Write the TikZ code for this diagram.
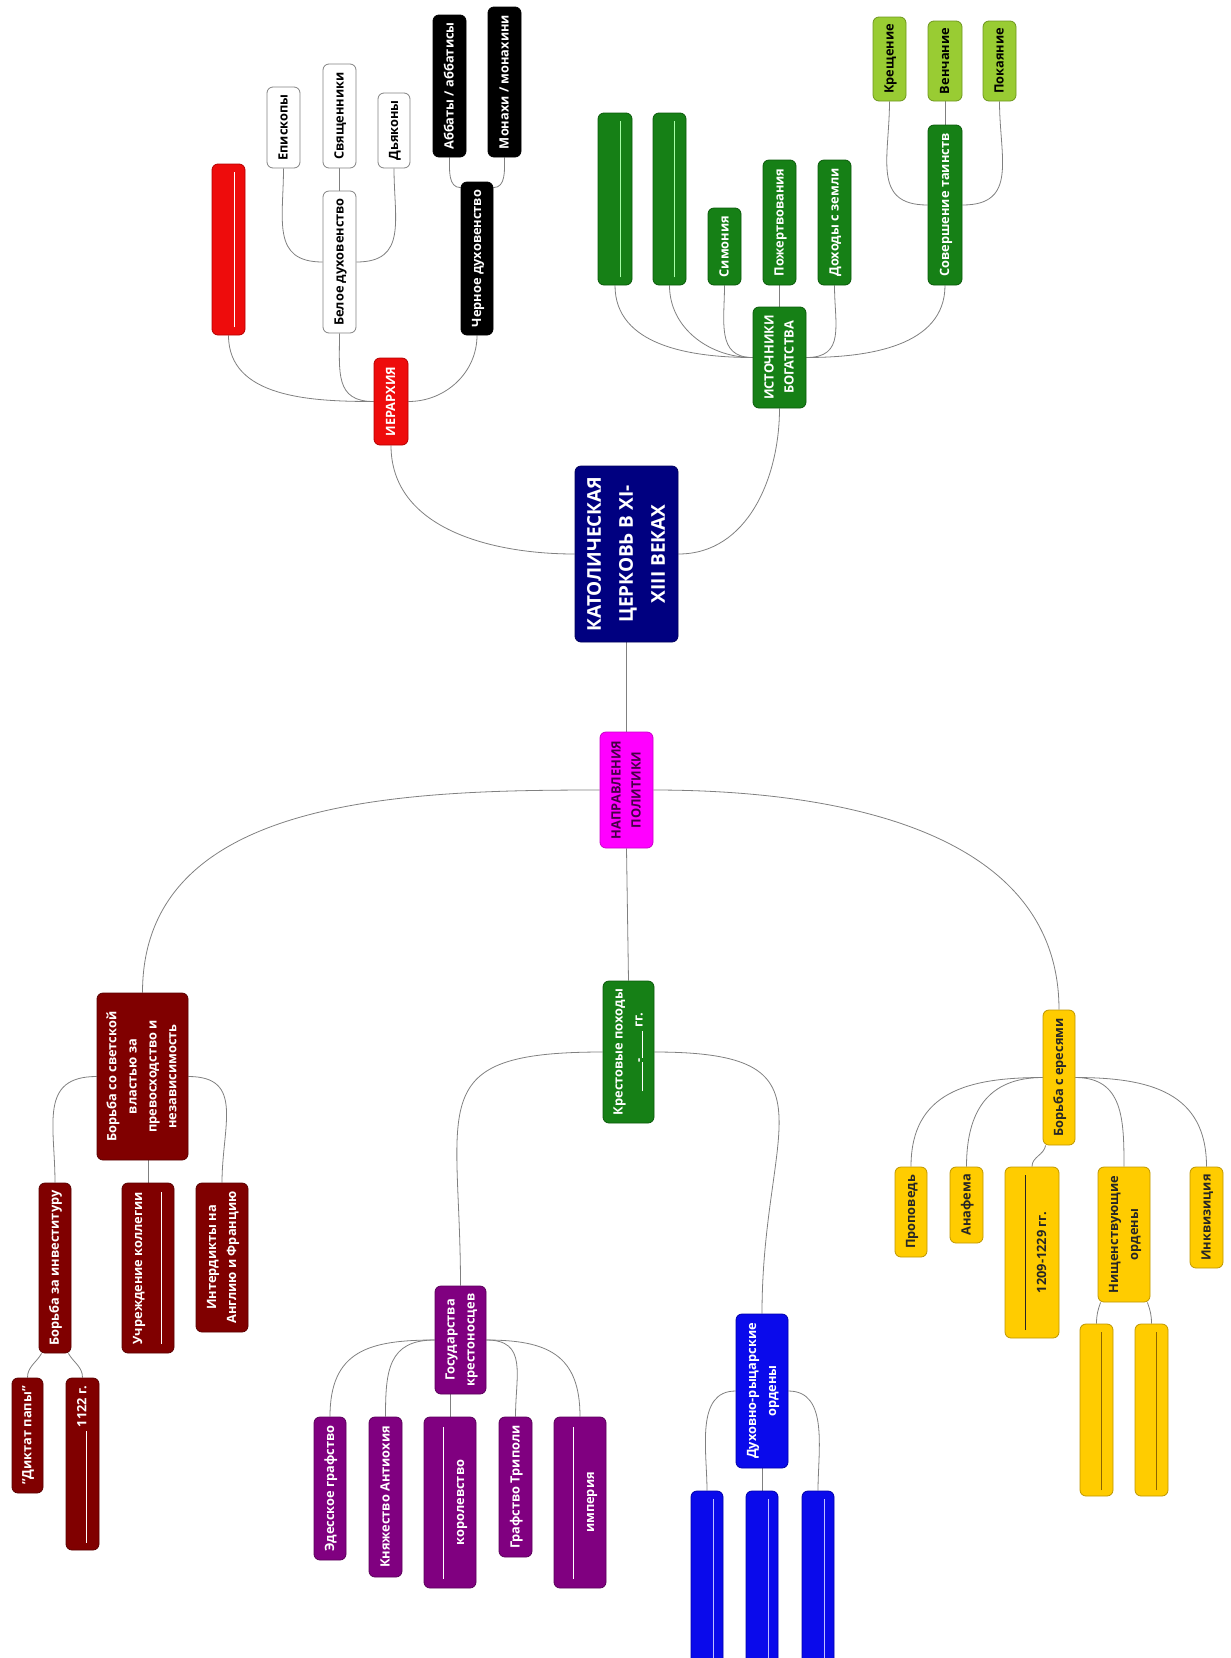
\documentclass[tikz,border=0pt]{standalone}
\usepackage{fontspec}
\setmainfont{Open Sans}
\usetikzlibrary{calc}
\pgfdeclarelayer{bg}
\pgfsetlayers{bg,main}
\definecolor{wborder}{RGB}{130,130,130}
\definecolor{redc}{RGB}{238,12,12}
\definecolor{redd}{RGB}{180,0,0}
\definecolor{dredc}{RGB}{128,0,0}
\definecolor{dredd}{RGB}{90,0,0}
\definecolor{navyc}{RGB}{0,0,128}
\definecolor{magc}{RGB}{255,0,255}
\definecolor{magd}{RGB}{200,0,200}
\definecolor{magt}{RGB}{70,0,70}
\definecolor{dgreenc}{RGB}{22,128,22}
\definecolor{dgreend}{RGB}{10,90,10}
\definecolor{lgreenc}{RGB}{153,204,51}
\definecolor{lgreend}{RGB}{110,150,30}
\definecolor{purpc}{RGB}{128,0,128}
\definecolor{purpd}{RGB}{90,0,90}
\definecolor{bluec}{RGB}{10,10,235}
\definecolor{blued}{RGB}{0,0,170}
\definecolor{yelc}{RGB}{255,204,0}
\definecolor{yeld}{RGB}{190,150,0}
\definecolor{yelline}{RGB}{140,100,0}
\definecolor{linkc}{RGB}{128,128,128}
\newcommand{\rt}[1]{\rotatebox{90}{\begin{tabular}{@{}c@{}}#1\end{tabular}}}
\newcommand{\bx}[7]{\node[nd,#2,minimum width={#4-#3},minimum height={#6-#5}] (#1) at ({(#3+#4)/2},{-(#5+#6)/2}) {#7};}
\tikzset{
  nd/.style={rounded corners=6pt, line width=0.8pt, inner sep=0pt, anchor=center,
    font=\fontsize{12.8}{20}\selectfont\bfseries},
  whiteb/.style={fill=white, draw=wborder, text=black},
  blackb/.style={fill=black, draw=black, text=white},
  redb/.style={fill=redc, draw=redd, text=white},
  dredb/.style={fill=dredc, draw=dredd, text=white},
  navyb/.style={fill=navyc, draw=navyc!70!black, text=white},
  magb/.style={fill=magc, draw=magd, text=magt},
  dgreenb/.style={fill=dgreenc, draw=dgreend, text=white},
  lgreenb/.style={fill=lgreenc, draw=lgreend, text=black},
  purpb/.style={fill=purpc, draw=purpd, text=white},
  blueb/.style={fill=bluec, draw=blued, text=white},
  yelb/.style={fill=yelc, draw=yeld, text=black!85},
  link/.style={draw=linkc, line width=0.8pt},
  blankline/.style={line width=0.8pt}
}
\begin{document}
\begin{tikzpicture}[x=1pt,y=1pt]
\useasboundingbox (0,0) rectangle (1231,-1658);
\clip (0,0) rectangle (1231,-1658);
% centre
\bx{main}{navyb,font=\fontsize{19}{32}\selectfont\bfseries}{575}{678}{466}{642}{\rt{КАТОЛИЧЕСКАЯ\\ЦЕРКОВЬ В XI-\\XIII ВЕКАХ}}
\bx{nap}{magb}{600}{653}{732}{848}{\rt{НАПРАВЛЕНИЯ\\ПОЛИТИКИ}}
% hierarchy
\bx{ier}{redb}{374}{408}{358}{445}{\rt{ИЕРАРХИЯ}}
\bx{rb}{redb}{212}{245}{164}{335}{}
\bx{bel}{whiteb}{323}{356}{191}{333}{\rt{Белое духовенство}}
\bx{ep}{whiteb}{267}{300}{87}{168}{\rt{Епископы}}
\bx{sv}{whiteb}{323}{356}{64}{168}{\rt{Священники}}
\bx{dk}{whiteb}{378}{410}{93}{168}{\rt{Дьяконы}}
\bx{chr}{blackb}{461}{493}{182}{335}{\rt{Черное духовенство}}
\bx{ab}{blackb}{433}{466}{15}{157}{\rt{Аббаты / аббатисы}}
\bx{mo}{blackb}{488}{521}{7}{157}{\rt{Монахи / монахини}}
% wealth
\bx{ist}{dgreenb}{753}{806}{307}{408}{\rt{ИСТОЧНИКИ\\БОГАТСТВА}}
\bx{gb1}{dgreenb}{598}{632}{113}{285}{}
\bx{gb2}{dgreenb}{653}{686}{113}{285}{}
\bx{sim}{dgreenb}{708}{741}{208}{285}{\rt{Симония}}
\bx{poz}{dgreenb}{763}{796}{160}{285}{\rt{Пожертвования}}
\bx{doh}{dgreenb}{818}{851}{160}{285}{\rt{Доходы с земли}}
\bx{sov}{dgreenb}{928}{962}{125}{285}{\rt{Совершение таинств}}
\bx{kre}{lgreenb}{873}{906}{17}{101}{\rt{Крещение}}
\bx{ven}{lgreenb}{928}{962}{21}{101}{\rt{Венчание}}
\bx{pok}{lgreenb}{983}{1016}{21}{101}{\rt{Покаяние}}
% secular power
\bx{svet}{dredb}{97}{188}{993}{1160}{\rt{Борьба со светской\\властью за\\превосходство и\\независимость}}
\bx{inv}{dredb}{39}{71}{1183}{1353}{\rt{Борьба за инвеституру}}
\bx{uch}{dredb}{122}{174}{1183}{1353}{\rt{Учреждение коллегии\\\rule{152pt}{0.7pt}}}
\bx{int}{dredb}{196}{248}{1183}{1332}{\rt{Интердикты на\\Англию и Францию}}
\bx{dik}{dredb}{12}{43}{1378}{1493}{\rt{"Диктат папы"}}
\bx{yk}{dredb}{66}{99}{1378}{1550}{\rt{\rule{112pt}{0.7pt} 1122 г.}}
% crusades
\bx{kr}{dgreenb}{603}{654}{981}{1123}{\rt{Крестовые походы\\\rule{29pt}{0.7pt}-\rule{27pt}{0.7pt} гг.}}
\bx{gos}{purpb}{435}{486}{1286}{1394}{\rt{Государства\\крестоносцев}}
\bx{ed}{purpb}{314}{346}{1417}{1560}{\rt{Эдесское графство}}
\bx{an}{purpb}{369}{402}{1417}{1577}{\rt{Княжество Антиохия}}
\bx{kor}{purpb}{424}{476}{1417}{1588}{\rt{\rule{152pt}{0.7pt}\\королевство}}
\bx{tri}{purpb}{499}{532}{1417}{1557}{\rt{Графство Триполи}}
\bx{imp}{purpb}{554}{606}{1417}{1588}{\rt{\rule{152pt}{0.7pt}\\империя}}
\bx{dr}{blueb}{736}{788}{1314}{1468}{\rt{Духовно-рыцарские\\ордены}}
\bx{bl1}{blueb}{691}{723}{1491}{1700}{}
\bx{bl2}{blueb}{746}{778}{1491}{1700}{}
\bx{bl3}{blueb}{802}{834}{1491}{1700}{}
% heresies
\bx{her}{yelb}{1043}{1075}{1010}{1145}{\rt{Борьба с ересями}}
\bx{pro}{yelb}{895}{927}{1167}{1257}{\rt{Проповедь}}
\bx{ana}{yelb}{950}{983}{1167}{1243}{\rt{Анафема}}
\bx{yr}{yelb}{1005}{1059}{1167}{1338}{\rt{\rule{155pt}{0.7pt}\\1209-1229 гг.}}
\bx{nis}{yelb}{1098}{1150}{1167}{1302}{\rt{Нищенствующие\\ордены}}
\bx{inq}{yelb}{1190}{1223}{1167}{1268}{\rt{Инквизиция}}
\bx{yb1}{yelb}{1080}{1113}{1324}{1496}{}
\bx{yb2}{yelb}{1135}{1168}{1324}{1496}{}
% blank lines inside empty nodes
\draw[blankline, white] ([xshift=6pt,yshift=8pt]rb.south) -- ([xshift=6pt,yshift=-8pt]rb.north);
\draw[blankline, green!35!white] ([xshift=5pt,yshift=8pt]gb1.south) -- ([xshift=5pt,yshift=-8pt]gb1.north);
\draw[blankline, green!35!white] ([xshift=5pt,yshift=8pt]gb2.south) -- ([xshift=5pt,yshift=-8pt]gb2.north);
\draw[blankline, blue!25!white] ([xshift=6pt,yshift=8pt]bl1.south) -- ([xshift=6pt,yshift=-8pt]bl1.north);
\draw[blankline, blue!25!white] ([xshift=6pt,yshift=8pt]bl2.south) -- ([xshift=6pt,yshift=-8pt]bl2.north);
\draw[blankline, blue!25!white] ([xshift=6pt,yshift=8pt]bl3.south) -- ([xshift=6pt,yshift=-8pt]bl3.north);
\draw[blankline, yelline] ([xshift=5pt,yshift=6pt]yb1.south) -- ([xshift=5pt,yshift=-8pt]yb1.north);
\draw[blankline, yelline] ([xshift=5pt,yshift=6pt]yb2.south) -- ([xshift=5pt,yshift=-8pt]yb2.north);
\begin{pgfonlayer}{bg}
% centre
\draw[link] (main.west) to[out=180,in=-90] (ier.south);
\draw[link] (main.east) to[out=0,in=-90] (ist.south);
\draw[link] (main.south) -- (nap.north);
% hierarchy
\draw[link] (ier.west) to[out=180,in=-90] (rb.south);
\draw[link] (ier.west) to[out=180,in=-90,looseness=1.3] (bel.south);
\draw[link] (ier.east) to[out=0,in=-90] (chr.south);
\draw[link] (bel.west) to[out=180,in=-90,looseness=1.3] (ep.south);
\draw[link] (bel.north) -- (sv.south);
\draw[link] (bel.east) to[out=0,in=-90,looseness=1.3] (dk.south);
\draw[link] (ab.south) to[out=-90,in=180] ([yshift=-6pt]chr.north west);
\draw[link] (mo.south) to[out=-90,in=0] ([yshift=-6pt]chr.north east);
% wealth
\draw[link] (ist.west) to[out=180,in=-90] (gb1.south);
\draw[link] (ist.west) to[out=180,in=-90] (gb2.south);
\draw[link] (ist.west) to[out=180,in=-90,looseness=1.2] (sim.south);
\draw[link] (ist.north) -- (poz.south);
\draw[link] (ist.east) to[out=0,in=-90,looseness=1.3] (doh.south);
\draw[link] (ist.east) to[out=0,in=-90] (sov.south);
\draw[link] (sov.west) to[out=180,in=-90,looseness=1.3] (kre.south);
\draw[link] (sov.north) -- (ven.south);
\draw[link] (sov.east) to[out=0,in=-90,looseness=1.3] (pok.south);
% politics
\draw[link] (nap.west) to[out=180,in=90] (svet.north);
\draw[link] (nap.east) to[out=0,in=90] (her.north);
\draw[link] (nap.south) -- (kr.north);
% secular power
\draw[link] (svet.west) to[out=180,in=90,looseness=1.3] (inv.north);
\draw[link] (svet.south -| uch.north) -- (uch.north);
\draw[link] (svet.east) to[out=0,in=90,looseness=1.3] (int.north);
\draw[link] ([xshift=3pt]inv.south west) to[out=-120,in=90] (dik.north);
\draw[link] ([xshift=-3pt]inv.south east) to[out=-60,in=90] (yk.north);
% crusades
\draw[link] (kr.west) to[out=180,in=90,looseness=1.7] (gos.north);
\draw[link] (kr.east) to[out=0,in=90,looseness=1.7] (dr.north);
\draw[link] (gos.west) to[out=180,in=90,looseness=1.3] (ed.north);
\draw[link] (gos.west) to[out=180,in=90,looseness=1.3] (an.north);
\draw[link] (gos.south -| kor.north) -- (kor.north);
\draw[link] (gos.east) to[out=0,in=90,looseness=1.3] (tri.north);
\draw[link] (gos.east) to[out=0,in=90,looseness=1.3] (imp.north);
\draw[link] (dr.west) to[out=180,in=90] (bl1.north);
\draw[link] (dr.south) -- (bl2.north);
\draw[link] (dr.east) to[out=0,in=90] (bl3.north);
% heresies
\draw[link] (her.west) to[out=180,in=90,looseness=1.2] (pro.north);
\draw[link] (her.west) to[out=180,in=90,looseness=1.2] (ana.north);
\draw[link] ([xshift=3pt]her.south west) to[out=-100,in=90] (yr.north);
\draw[link] (her.east) to[out=0,in=90,looseness=1.2] (nis.north);
\draw[link] (her.east) to[out=0,in=90,looseness=1.2] (inq.north);
\draw[link] ([xshift=3pt]nis.south west) to[out=-110,in=90] (yb1.north);
\draw[link] ([xshift=-3pt]nis.south east) to[out=-70,in=90] (yb2.north);
\end{pgfonlayer}
\end{tikzpicture}
\end{document}
